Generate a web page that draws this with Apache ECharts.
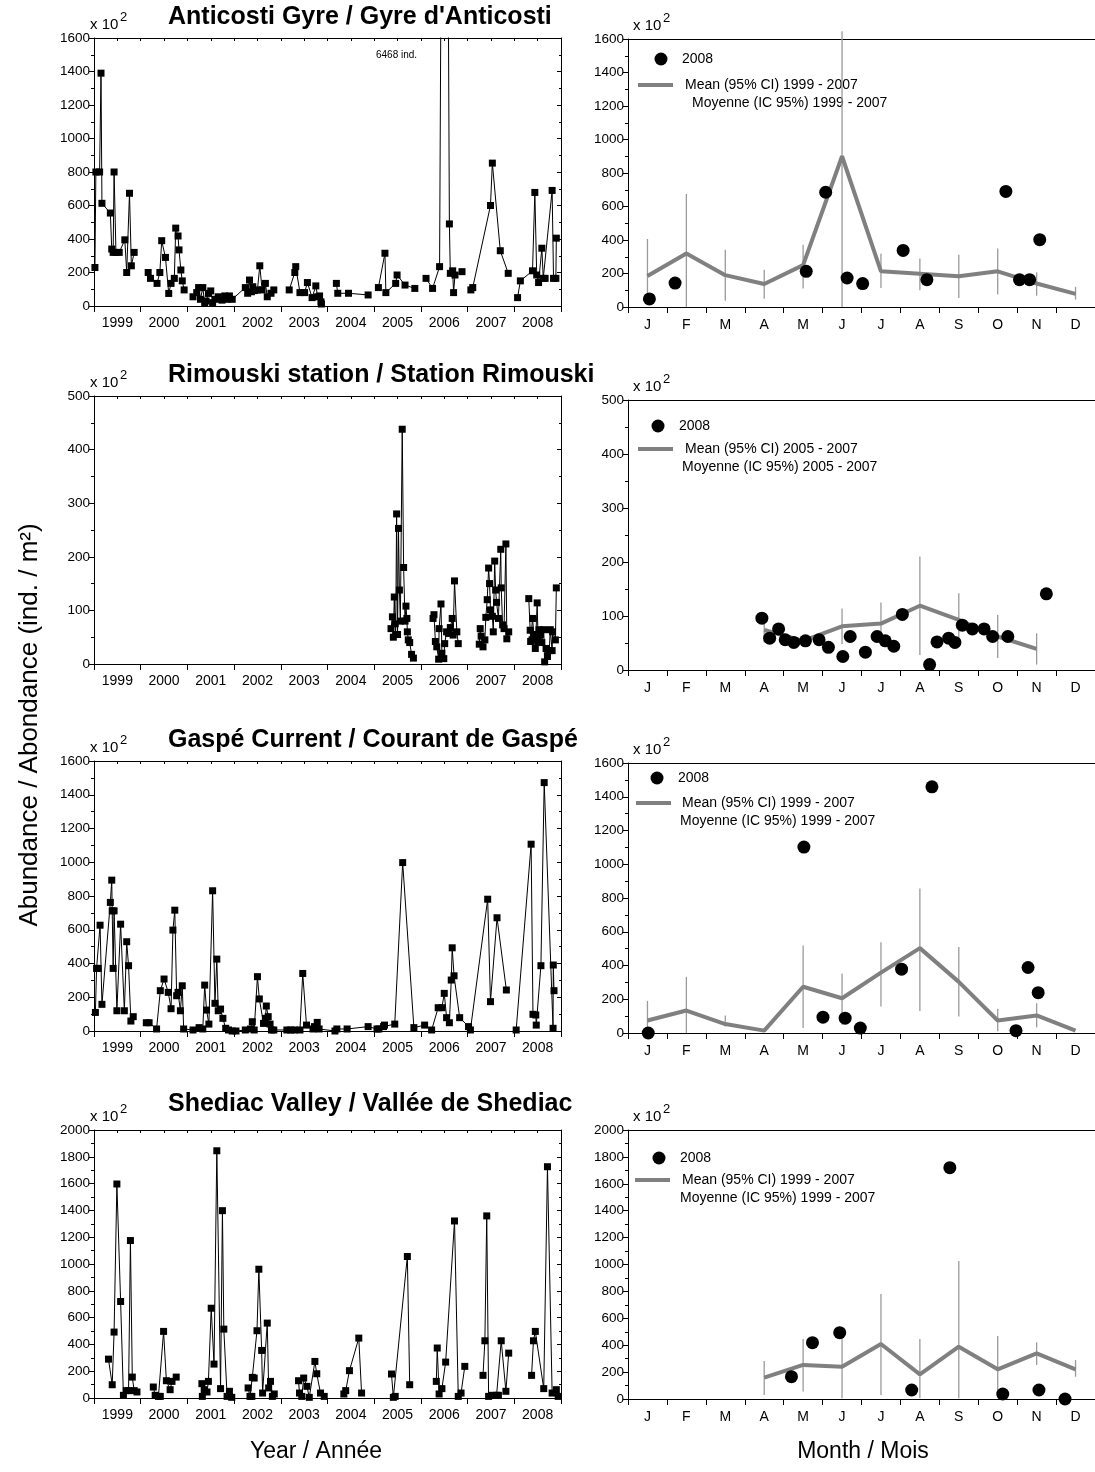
<!DOCTYPE html>
<html>
<head>
<meta charset="utf-8">
<script src="https://cdn.jsdelivr.net/npm/echarts@6/dist/echarts.min.js"></script>
<style>
  html, body { margin: 0; padding: 0; background: #fff; }
  #chart { width: 1095px; height: 1472px; }
</style>
</head>
<body>
<div id="chart"></div>
<script>
// ---------------------------------------------------------------------------
// Tick labels
// ---------------------------------------------------------------------------
const yearLabels = ['1999', '2000', '2001', '2002', '2003', '2004', '2005', '2006', '2007', '2008'];
const monthLabels = ['J', 'F', 'M', 'A', 'M', 'J', 'J', 'A', 'S', 'O', 'N', 'D'];

// ---------------------------------------------------------------------------
// Time series (decimal year, abundance x 10^2 ind./m2); each inner list is one
// continuous sampling stretch.
// ---------------------------------------------------------------------------
const anticostiSeries = [
  [[1999.02, 230], [1999.04, 800], [1999.12, 800], [1999.15, 1390], [1999.17, 613], [1999.35, 555], [1999.38, 340],
   [1999.41, 320], [1999.43, 800], [1999.47, 320], [1999.54, 320], [1999.66, 395], [1999.70, 200], [1999.76, 673],
   [1999.80, 240], [1999.86, 320]],
  [[2000.16, 200], [2000.21, 165], [2000.35, 135], [2000.41, 200], [2000.45, 390], [2000.53, 290], [2000.60, 75],
   [2000.65, 135], [2000.72, 165], [2000.75, 465], [2000.80, 418], [2000.82, 335], [2000.86, 215], [2000.89, 150],
   [2000.93, 96]],
  [[2001.12, 55], [2001.20, 80], [2001.24, 110], [2001.28, 40], [2001.33, 110], [2001.37, 15], [2001.40, 30],
   [2001.45, 75], [2001.50, 90], [2001.54, 20], [2001.60, 40], [2001.66, 55], [2001.74, 35], [2001.80, 60],
   [2001.85, 40], [2001.90, 60], [2001.96, 40], [2002.24, 110], [2002.29, 76], [2002.33, 155], [2002.37, 85],
   [2002.40, 115], [2002.44, 92], [2002.50, 96], [2002.55, 240], [2002.60, 96], [2002.67, 135], [2002.71, 55],
   [2002.79, 76], [2002.85, 96]],
  [[2003.18, 96], [2003.30, 200], [2003.32, 235], [2003.41, 80], [2003.51, 80], [2003.57, 140], [2003.67, 50],
   [2003.75, 120], [2003.79, 55], [2003.83, 60], [2003.86, 25], [2003.87, 12]],
  [[2004.19, 135], [2004.22, 76], [2004.45, 76], [2004.87, 66]],
  [[2005.09, 110], [2005.23, 315], [2005.25, 80], [2005.46, 135], [2005.49, 185], [2005.66, 125], [2005.87, 105]],
  [[2006.11, 165], [2006.25, 105], [2006.40, 235], [2006.51, 6468], [2006.61, 490], [2006.63, 195], [2006.68, 210],
   [2006.70, 80], [2006.73, 185], [2006.88, 205]],
  [[2007.07, 96], [2007.11, 110], [2007.49, 600], [2007.53, 853], [2007.70, 330], [2007.87, 195]],
  [[2008.07, 50], [2008.13, 150], [2008.39, 210], [2008.44, 678], [2008.48, 185], [2008.52, 140], [2008.59, 345],
   [2008.62, 165], [2008.66, 165], [2008.81, 690], [2008.84, 165], [2008.89, 165], [2008.90, 405]]
];

const rimouskiSeries = [
  [[2005.36, 66], [2005.39, 88], [2005.41, 50], [2005.43, 125], [2005.45, 75], [2005.46, 55], [2005.48, 280],
   [2005.50, 55], [2005.52, 253], [2005.54, 138], [2005.56, 80], [2005.60, 438], [2005.63, 180], [2005.66, 80],
   [2005.68, 108], [2005.70, 85], [2005.71, 60], [2005.73, 45], [2005.76, 40], [2005.80, 18], [2005.84, 11]],
  [[2006.26, 85], [2006.28, 92], [2006.31, 42], [2006.34, 32], [2006.38, 9], [2006.39, 66], [2006.43, 112],
   [2006.45, 20], [2006.49, 10], [2006.51, 38], [2006.55, 60], [2006.59, 57], [2006.63, 68], [2006.67, 85],
   [2006.69, 54], [2006.72, 155], [2006.77, 60], [2006.80, 38]],
  [[2007.25, 37], [2007.27, 66], [2007.29, 52], [2007.33, 32], [2007.37, 45], [2007.39, 87], [2007.42, 120],
   [2007.45, 179], [2007.47, 150], [2007.49, 101], [2007.53, 89], [2007.55, 60], [2007.58, 192], [2007.60, 138],
   [2007.62, 115], [2007.66, 85], [2007.71, 214], [2007.72, 142], [2007.75, 73], [2007.78, 66], [2007.82, 224],
   [2007.84, 47], [2007.88, 60]],
  [[2008.31, 122], [2008.34, 63], [2008.35, 42], [2008.38, 45], [2008.39, 85], [2008.42, 55], [2008.45, 29],
   [2008.49, 114], [2008.51, 42], [2008.53, 64], [2008.56, 55], [2008.59, 40], [2008.63, 64], [2008.65, 4],
   [2008.68, 29], [2008.71, 14], [2008.75, 25], [2008.77, 64], [2008.81, 25], [2008.82, 60], [2008.88, 45],
   [2008.90, 142]]
];

const gaspeSeries = [
  [[1999.03, 110], [1999.055, 371], [1999.09, 371], [1999.13, 627], [1999.17, 158], [1999.35, 762], [1999.38, 894],
   [1999.39, 712], [1999.41, 371], [1999.43, 712], [1999.49, 120], [1999.57, 633], [1999.65, 120], [1999.70, 529],
   [1999.74, 387], [1999.79, 59], [1999.84, 85]],
  [[2000.12, 49], [2000.18, 49], [2000.34, 12], [2000.42, 239], [2000.50, 308], [2000.59, 229], [2000.65, 132],
   [2000.69, 598], [2000.73, 716], [2000.77, 209], [2000.80, 229], [2000.85, 120], [2000.89, 268], [2000.92, 12],
   [2001.12, 6], [2001.25, 20], [2001.33, 12], [2001.37, 272], [2001.41, 124], [2001.46, 41], [2001.54, 831],
   [2001.59, 164], [2001.63, 426], [2001.66, 120], [2001.71, 130], [2001.76, 75], [2001.82, 16], [2001.88, 6],
   [2001.96, 0], [2002.04, 0], [2002.24, 6], [2002.35, 12], [2002.39, 55], [2002.43, 6], [2002.50, 322],
   [2002.54, 190], [2002.63, 45], [2002.67, 75], [2002.69, 148], [2002.73, 85], [2002.77, 41], [2002.80, 6],
   [2002.85, 6], [2003.13, 6], [2003.21, 6], [2003.29, 6], [2003.41, 6], [2003.47, 341], [2003.55, 35],
   [2003.69, 12], [2003.72, 26], [2003.78, 51], [2003.82, 12], [2004.16, 0], [2004.20, 12], [2004.42, 12],
   [2004.87, 26], [2005.06, 12], [2005.10, 12], [2005.20, 26], [2005.22, 35], [2005.44, 41], [2005.61, 998],
   [2005.85, 20], [2006.08, 35], [2006.23, 6], [2006.37, 138], [2006.45, 138], [2006.50, 223], [2006.55, 79],
   [2006.61, 49], [2006.65, 302], [2006.67, 493], [2006.71, 327], [2006.83, 79], [2007.02, 26], [2007.06, 6],
   [2007.43, 781], [2007.49, 174], [2007.63, 671], [2007.83, 243]],
  [[2008.04, 6], [2008.36, 1107], [2008.40, 99], [2008.46, 95], [2008.47, 35], [2008.57, 387], [2008.64, 1472],
   [2008.83, 16], [2008.835, 391], [2008.85, 239]]
];

const shediacSeries = [
  [[1999.31, 290], [1999.39, 99], [1999.43, 492], [1999.49, 1597], [1999.57, 720], [1999.63, 20], [1999.69, 55],
   [1999.74, 55], [1999.78, 1175], [1999.82, 156], [1999.86, 55], [1999.92, 45]],
  [[2000.27, 82], [2000.31, 20], [2000.38, 12], [2000.42, 12], [2000.49, 497], [2000.55, 129], [2000.63, 62],
   [2000.67, 124], [2000.76, 156]],
  [[2001.31, 107], [2001.32, 12], [2001.36, 62], [2001.42, 45], [2001.45, 124], [2001.51, 670], [2001.57, 253],
   [2001.63, 1845], [2001.71, 70], [2001.75, 1398], [2001.78, 514], [2001.85, 12], [2001.90, 50], [2001.95, 5]],
  [[2002.30, 75], [2002.34, 12], [2002.38, 12], [2002.39, 154], [2002.43, 149], [2002.49, 502], [2002.53, 961],
   [2002.59, 355], [2002.61, 37], [2002.71, 559], [2002.74, 75], [2002.78, 124], [2002.82, 12], [2002.86, 30]],
  [[2003.38, 129], [2003.40, 37], [2003.45, 12], [2003.49, 149], [2003.56, 87], [2003.61, 5], [2003.73, 273],
   [2003.77, 181], [2003.85, 37], [2003.93, 12]],
  [[2004.35, 30], [2004.39, 55], [2004.47, 204], [2004.67, 447], [2004.73, 37]],
  [[2005.37, 179], [2005.41, 5], [2005.45, 12], [2005.71, 1056], [2005.76, 99]],
  [[2006.33, 124], [2006.35, 373], [2006.39, 30], [2006.45, 70], [2006.53, 268], [2006.72, 1321], [2006.80, 12],
   [2006.86, 37], [2006.94, 236]],
  [[2007.33, 169], [2007.37, 427], [2007.41, 1359], [2007.45, 12], [2007.53, 20], [2007.62, 20], [2007.66, 20],
   [2007.72, 427], [2007.82, 50], [2007.88, 335]],
  [[2008.37, 169], [2008.41, 427], [2008.45, 497], [2008.63, 70], [2008.71, 1726], [2008.81, 37], [2008.90, 62],
   [2008.94, 12]]
];

// ---------------------------------------------------------------------------
// Monthly climatology: mean and 95% CI (null = no estimate for that month),
// plus the 2008 samples as (month position, abundance).
// ---------------------------------------------------------------------------
const anticostiMean = [185, 320, 190, 137, 250, 900, 213, 199, 183, 213, 140, 78];
const anticostiLow  = [20, 0, 38, 50, 111, 0, 113, 100, 54, 74, 68, 44];
const anticostiHigh = [406, 675, 342, 223, 372, 1646, 318, 290, 312, 350, 207, 120];
const anticosti2008 = [[0.55, 48], [1.21, 143], [4.58, 213], [5.08, 685], [5.63, 173], [6.03, 140], [7.07, 338],
  [7.68, 163], [9.71, 690], [10.06, 163], [10.32, 163], [10.58, 402]];

const rimouskiMean = [null, null, null, 74, 54, 81, 86, 119, 93, 62, 39, null];
const rimouskiLow  = [null, null, null, 51, null, 48, 68, 28, 60, 22, 10, null];
const rimouskiHigh = [null, null, null, 96, null, 114, 125, 210, 142, 102, 68, null];
const rimouski2008 = [[3.44, 96], [3.64, 59], [3.87, 76], [4.04, 56], [4.26, 51], [4.56, 54], [4.91, 56],
  [5.15, 42], [5.52, 25], [5.71, 62], [6.10, 33], [6.40, 62], [6.61, 54], [6.83, 44], [7.05, 103], [7.75, 10],
  [7.94, 52], [8.24, 59], [8.40, 51], [8.59, 83], [8.85, 76], [9.15, 76], [9.37, 62], [9.76, 62], [10.75, 141]];

const gaspeMean = [74, 133, 53, 14, 274, 206, 358, 503, 303, 74, 104, 14];
const gaspeLow  = [0, 0, 39, null, 29, 49, 157, 131, 98, 10, 33, null];
const gaspeHigh = [190, 333, 104, null, 519, 352, 538, 856, 509, 143, 176, null];
const gaspe2008 = [[0.52, 0], [4.52, 1102], [5.01, 94], [5.58, 88], [5.97, 29], [7.03, 378], [7.81, 1459],
  [9.97, 14], [10.28, 388], [10.54, 239]];

const shediacMean = [null, null, null, 159, 253, 240, 409, 183, 389, 221, 339, 221];
const shediacLow  = [null, null, null, 30, 55, 5, 30, 5, 5, 5, 253, 166];
const shediacHigh = [null, null, null, 282, 446, 463, 780, 446, 1026, 468, 421, 290];
const shediac2008 = [[4.20, 166], [4.74, 419], [5.44, 493], [7.29, 67], [8.27, 1720], [9.63, 37], [10.56, 67],
  [11.23, 0]];

// ---------------------------------------------------------------------------
// Layout and styling
// ---------------------------------------------------------------------------
const FONT = '"Liberation Sans", Arial, Helvetica, sans-serif';
const BLACK = '#000';
const MEAN_GREY = '#808080';
const BAR_GREY = '#9a9a9a';
const LEFT_X = 94, LEFT_W = 467;
const RIGHT_X = 628, RIGHT_W = 472;

const stations = [
  { title: 'Anticosti Gyre / Gyre d\'Anticosti', period: '1999 - 2007', max: 1600, interval: 200,
    series: anticostiSeries, mean: anticostiMean, low: anticostiLow, high: anticostiHigh, samples: anticosti2008,
    leftTop: 38, leftH: 268, rightTop: 39, rightH: 268, titleY: 17,
    legend: { dot: [661, 59], line: [638, 673, 85], mean: [685, 85], moy: [692, 103] } },
  { title: 'Rimouski station / Station Rimouski', period: '2005 - 2007', max: 500, interval: 100,
    series: rimouskiSeries, mean: rimouskiMean, low: rimouskiLow, high: rimouskiHigh, samples: rimouski2008,
    leftTop: 396, leftH: 268, rightTop: 400, rightH: 270, titleY: 375,
    legend: { dot: [658, 426], line: [638, 673, 449], mean: [685, 449], moy: [682, 467] } },
  { title: 'Gaspé Current / Courant de Gaspé', period: '1999 - 2007', max: 1600, interval: 200,
    series: gaspeSeries, mean: gaspeMean, low: gaspeLow, high: gaspeHigh, samples: gaspe2008,
    leftTop: 761, leftH: 270, rightTop: 763, rightH: 270, titleY: 740,
    legend: { dot: [657, 778], line: [636, 671, 803], mean: [682, 803], moy: [680, 821] } },
  { title: 'Shediac Valley / Vallée de Shediac', period: '1999 - 2007', max: 2000, interval: 200,
    series: shediacSeries, mean: shediacMean, low: shediacLow, high: shediacHigh, samples: shediac2008,
    leftTop: 1130, leftH: 268, rightTop: 1130, rightH: 269, titleY: 1104,
    legend: { dot: [659, 1158], line: [635, 670, 1180], mean: [682, 1180], moy: [680, 1198] } }
];

const option = {
  animation: false,
  backgroundColor: '#fff',
  textStyle: { fontFamily: FONT },
  grid: [], xAxis: [], yAxis: [], series: [], graphic: []
};

const lineBlack = { color: BLACK, width: 1 };

function valueXAxis(gi, min, max, interval, position, tick) {
  return {
    type: 'value', gridIndex: gi, position, min, max, interval,
    axisLine: { show: true, onZero: false, lineStyle: lineBlack },
    axisTick: Object.assign({ show: true, lineStyle: lineBlack }, tick),
    axisLabel: { show: false }, splitLine: { show: false }
  };
}

function labelXAxis(gi, labels, margin) {
  return {
    type: 'category', gridIndex: gi, position: 'bottom',
    data: labels.map((_, i) => 'c' + i),
    axisLine: { show: false }, axisTick: { show: false }, splitLine: { show: false },
    axisLabel: { interval: 0, margin, fontSize: 14, color: BLACK, fontFamily: FONT,
                 formatter: (v, i) => labels[i] }
  };
}

function leftYAxis(gi, st) {
  return {
    type: 'value', gridIndex: gi, position: 'left', min: 0, max: st.max, interval: st.interval,
    axisLine: { show: true, onZero: false, lineStyle: lineBlack },
    axisTick: { show: true, length: 5, lineStyle: lineBlack },
    minorTick: { show: true, splitNumber: 2, length: 3, lineStyle: lineBlack },
    axisLabel: { fontSize: 13.5, color: BLACK, margin: 4, fontFamily: FONT, formatter: (v) => String(v) },
    splitLine: { show: false }
  };
}

function text(x, y, str, size, extra) {
  return {
    type: 'text', x, y, silent: true,
    style: Object.assign({ text: str, fontSize: size, fontFamily: FONT, fill: BLACK,
                           textAlign: 'left', textVerticalAlign: 'middle' }, extra || {})
  };
}

function multiplier(x, top) {
  option.graphic.push(text(x, top - 13, 'x 10', 15));
  option.graphic.push(text(x + 30, top - 21, '2', 13));
}

function errorBarItem(params, api) {
  const x = api.value(0);
  const p1 = api.coord([x, api.value(1)]);
  const p2 = api.coord([x, api.value(2)]);
  return {
    type: 'line',
    shape: { x1: p1[0], y1: p1[1], x2: p2[0], y2: p2[1] },
    style: { stroke: BAR_GREY, lineWidth: 1.3 }
  };
}

stations.forEach((st) => {
  // ----- yearly time series (left column) -----
  const gl = option.grid.length;
  option.grid.push({ left: LEFT_X, top: st.leftTop, width: LEFT_W, height: st.leftH });
  const xl = option.xAxis.length;
  option.xAxis.push(valueXAxis(gl, 1999, 2009, 1, 'bottom', { length: 6 }));
  option.xAxis.push(labelXAxis(gl, yearLabels, 10));
  option.xAxis.push(valueXAxis(gl, 1999, 2009, 0.5, 'top', { inside: true, length: 3 }));
  const yl = option.yAxis.length;
  option.yAxis.push(leftYAxis(gl, st));
  option.yAxis.push({
    type: 'value', gridIndex: gl, position: 'right', min: 0, max: st.max, interval: st.interval,
    axisLine: { show: true, onZero: false, lineStyle: lineBlack },
    axisTick: { show: true, inside: true, length: 4, lineStyle: lineBlack },
    minorTick: { show: true, splitNumber: 2, length: 2, lineStyle: lineBlack },
    axisLabel: { show: false }, splitLine: { show: false }
  });
  st.series.forEach((seg) => {
    option.series.push({
      type: 'line', xAxisIndex: xl, yAxisIndex: yl, data: seg,
      symbol: 'rect', symbolSize: 7, showAllSymbol: true, clip: true,
      lineStyle: { color: BLACK, width: 1 }, itemStyle: { color: BLACK, opacity: 1 }
    });
  });

  // ----- monthly comparison (right column) -----
  const gr = option.grid.length;
  option.grid.push({ left: RIGHT_X, top: st.rightTop, width: RIGHT_W, height: st.rightH });
  const xr = option.xAxis.length;
  option.xAxis.push(valueXAxis(gr, 0, 12, 1, 'bottom', { length: 6 }));
  option.xAxis.push(labelXAxis(gr, monthLabels, 11));
  option.xAxis.push(valueXAxis(gr, 0, 12, 1, 'top', { show: false }));
  const yr = option.yAxis.length;
  option.yAxis.push(leftYAxis(gr, st));

  const bars = [], meanLine = [];
  st.mean.forEach((m, i) => {
    if (m !== null) meanLine.push([i + 0.5, m]);
    if (st.low[i] !== null && st.high[i] !== null) bars.push([i + 0.5, st.low[i], st.high[i]]);
  });
  option.series.push({
    type: 'custom', xAxisIndex: xr, yAxisIndex: yr, data: bars, clip: false,
    encode: { x: 0, y: [1, 2] }, renderItem: errorBarItem, z: 2
  });
  option.series.push({
    type: 'line', xAxisIndex: xr, yAxisIndex: yr, data: meanLine, symbol: 'none',
    lineStyle: { color: MEAN_GREY, width: 4 }, z: 3
  });
  option.series.push({
    type: 'scatter', xAxisIndex: xr, yAxisIndex: yr, data: st.samples,
    symbol: 'circle', symbolSize: 13, itemStyle: { color: BLACK, opacity: 1 }, z: 4
  });

  // ----- titles, multipliers and legend -----
  option.graphic.push(text(168, st.titleY, st.title, 25, { fontWeight: 'bold' }));
  multiplier(90, st.leftTop);
  multiplier(633, st.rightTop);

  const lg = st.legend;
  option.graphic.push({ type: 'circle', silent: true, shape: { cx: lg.dot[0], cy: lg.dot[1], r: 6.5 },
                        style: { fill: BLACK } });
  option.graphic.push(text(lg.dot[0] + 21, lg.dot[1], '2008', 14));
  option.graphic.push({ type: 'line', silent: true,
                        shape: { x1: lg.line[0], y1: lg.line[2], x2: lg.line[1], y2: lg.line[2] },
                        style: { stroke: MEAN_GREY, lineWidth: 4 } });
  option.graphic.push(text(lg.mean[0], lg.mean[1], 'Mean (95% CI) ' + st.period, 14));
  option.graphic.push(text(lg.moy[0], lg.moy[1], 'Moyenne (IC 95%) ' + st.period, 14));
});

// Off-scale peak annotation and the shared axis titles
option.graphic.push(text(376, 55, '6468 ind.', 10));
option.graphic.push(text(316, 1452, 'Year / Année', 23, { textAlign: 'center' }));
option.graphic.push(text(863, 1452, 'Month / Mois', 23, { textAlign: 'center' }));
option.graphic.push(Object.assign(text(30, 725, 'Abundance / Abondance (ind. / m²)', 26,
  { textAlign: 'center' }), { rotation: Math.PI / 2 }));

const chart = echarts.init(document.getElementById('chart'), null, { renderer: 'canvas' });
chart.setOption(option);
</script>
</body>
</html>
